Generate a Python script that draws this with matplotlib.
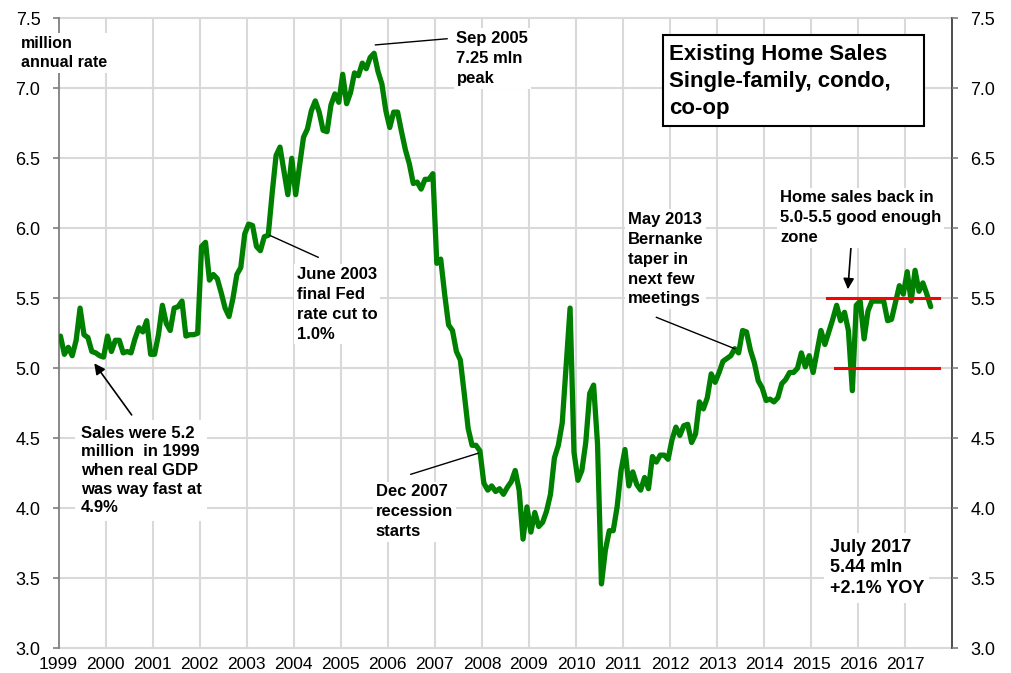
import numpy as np
import matplotlib
matplotlib.use('Agg')
import matplotlib.pyplot as plt
from matplotlib.patches import Rectangle

plt.rcParams['font.family'] = ['Liberation Sans', 'DejaVu Sans']

# ---- data: existing home sales, million SAAR, monthly ----
sales_1999 = [5.23, 5.10, 5.15, 5.09, 5.20, 5.43, 5.24, 5.22, 5.12, 5.11, 5.09, 5.08]
sales_2000 = [5.23, 5.12, 5.20, 5.20, 5.11, 5.12, 5.11, 5.21, 5.29, 5.26, 5.34, 5.10]
sales_2001 = [5.10, 5.24, 5.45, 5.32, 5.27, 5.43, 5.44, 5.48, 5.23, 5.24, 5.24, 5.25]
sales_2002 = [5.87, 5.90, 5.63, 5.67, 5.64, 5.54, 5.43, 5.37, 5.50, 5.67, 5.72, 5.96]
sales_2003 = [6.03, 6.02, 5.87, 5.84, 5.94, 5.95, 6.25, 6.52, 6.58, 6.41, 6.24, 6.50]
sales_2004 = [6.24, 6.45, 6.65, 6.71, 6.84, 6.91, 6.83, 6.70, 6.69, 6.88, 6.96, 6.90]
sales_2005 = [7.10, 6.89, 6.97, 7.11, 7.09, 7.18, 7.14, 7.22, 7.25, 7.12, 7.03, 6.84]
sales_2006 = [6.72, 6.83, 6.83, 6.69, 6.56, 6.46, 6.32, 6.33, 6.28, 6.35, 6.35, 6.39]
sales_2007 = [5.75, 5.78, 5.53, 5.31, 5.27, 5.12, 5.06, 4.82, 4.57, 4.45, 4.45, 4.41]
sales_2008 = [4.18, 4.13, 4.16, 4.12, 4.14, 4.10, 4.15, 4.19, 4.27, 4.13, 3.78, 4.01]
sales_2009 = [3.83, 3.97, 3.87, 3.90, 3.98, 4.10, 4.36, 4.45, 4.61, 5.02, 5.43, 4.40]
sales_2010 = [4.20, 4.27, 4.47, 4.82, 4.88, 4.46, 3.46, 3.70, 3.84, 3.84, 4.01, 4.27]
sales_2011 = [4.42, 4.16, 4.26, 4.17, 4.13, 4.22, 4.14, 4.37, 4.33, 4.38, 4.38, 4.35]
sales_2012 = [4.49, 4.58, 4.52, 4.59, 4.60, 4.47, 4.53, 4.76, 4.71, 4.79, 4.96, 4.90]
sales_2013 = [4.97, 5.05, 5.07, 5.09, 5.14, 5.11, 5.27, 5.26, 5.13, 5.04, 4.91, 4.86]
sales_2014 = [4.77, 4.78, 4.76, 4.79, 4.89, 4.92, 4.97, 4.97, 5.00, 5.11, 5.01, 5.09]
sales_2015 = [4.97, 5.12, 5.27, 5.17, 5.26, 5.35, 5.45, 5.34, 5.40, 5.27, 4.84, 5.45]
sales_2016 = [5.48, 5.21, 5.41, 5.48, 5.48, 5.48, 5.48, 5.34, 5.35, 5.47, 5.59, 5.53]
sales_2017 = [5.69, 5.48, 5.70, 5.55, 5.61, 5.53, 5.44]

start_year = 1999
year_labels = [str(y) for y in range(1999, 2018)]
y_ticks = [3.0, 3.5, 4.0, 4.5, 5.0, 5.5, 6.0, 6.5, 7.0, 7.5]
zone_levels = [5.0, 5.5]

sales = np.concatenate([sales_1999, sales_2000, sales_2001, sales_2002, sales_2003,
                        sales_2004, sales_2005, sales_2006, sales_2007, sales_2008,
                        sales_2009, sales_2010, sales_2011, sales_2012, sales_2013,
                        sales_2014, sales_2015, sales_2016, sales_2017])
t = start_year + (np.arange(len(sales)) + 0.5) / 12.0

def month_x(year, month):
    return year + (month - 0.5) / 12.0

def val_at(year, month):
    return sales[(year - start_year) * 12 + month - 1]

# ---- figure ----
W, H = 1011, 673
fig = plt.figure(figsize=(W / 100, H / 100), dpi=100)
x0, x1, ytop, ybot = 58.5, 952.3, 18.3, 648.3
ax = fig.add_axes([x0 / W, (H - ybot) / H, (x1 - x0) / W, (ybot - ytop) / H])
ax.set_xlim(1999, 2018)
ax.set_ylim(3.0, 7.5)

grid_c = '#d9d9d9'
for yv in y_ticks:
    ax.axhline(yv, color=grid_c, lw=1.5, zorder=0.5, clip_on=False)
for i in range(1, len(year_labels)):
    ax.axvline(1999 + i, color=grid_c, lw=1.5, zorder=0.5)

for s in ['top', 'bottom']:
    ax.spines[s].set_visible(False)
ax.spines['left'].set_color('#7f7f7f')
ax.spines['left'].set_linewidth(1.3)
ax.spines['right'].set_color('#404040')
ax.spines['right'].set_linewidth(1.3)
ax.spines['left'].set_zorder(1)
ax.spines['right'].set_zorder(1)

ax.set_yticks(y_ticks)
ax.set_yticklabels([f'{v:.1f}' for v in y_ticks])
ax.tick_params(axis='y', which='both', left=True, right=True, labelleft=True,
               labelright=True, direction='out', length=4, width=1.2,
               pad=9, labelsize=13, colors='#7f7f7f', labelcolor='black')
ax.set_xticks(list(range(1999, 2018)))
ax.set_xticklabels(year_labels)
ax.tick_params(axis='x', length=0, pad=6, labelsize=12.5)

# ---- main line ----
ax.plot(t, sales, color='#008000', lw=3.8, solid_joinstyle='round',
        solid_capstyle='round', zorder=2)

# ---- zone lines ----
ax.plot([2015.34, 2017.71], [zone_levels[1], zone_levels[1]], color='#ff0000', lw=2.2, zorder=3)
ax.plot([2015.50, 2017.71], [zone_levels[0], zone_levels[0]], color='#ff0000', lw=2.2, zorder=3)

wb = dict(facecolor='white', edgecolor='none', pad=2)
fs = 12
ls = 1.4
dy = -0.025  # small downward shift of text blocks

ax.text(1998.197, 7.402 + dy, 'million\nannual rate', fontsize=11.5, fontweight='bold',
        ha='left', va='top', bbox=wb, zorder=5, clip_on=False, linespacing=1.39)

# Sep 2005 peak
ax.text(2007.46, 7.433 + dy, 'Sep 2005\n7.25 mln\npeak', fontsize=fs, fontweight='bold',
        ha='left', va='top', bbox=wb, zorder=5, linespacing=ls)
ax.plot([month_x(2005, 9) + 0.03, 2007.26], [val_at(2005, 9) + 0.06, 7.354],
        color='black', lw=1, zorder=4)

# June 2003
ax.text(2004.06, 5.747 + dy, 'June 2003\nfinal Fed\nrate cut to\n1.0%', fontsize=fs,
        fontweight='bold', ha='left', va='top', bbox=wb, zorder=5, linespacing=ls)
ax.plot([month_x(2003, 6) + 0.03, 2004.52], [val_at(2003, 6), 5.793],
        color='black', lw=1, zorder=4)

# 1999 note
ax.text(1999.47, 4.616 + dy, 'Sales were 5.2\nmillion  in 1999\nwhen real GDP\nwas way fast at\n4.9%',
        fontsize=fs, fontweight='bold', ha='left', va='top',
        bbox=dict(facecolor='white', edgecolor='none', pad=4), zorder=5, linespacing=1.31)
ax.annotate('', xy=(1999.76, 5.036), xytext=(2000.555, 4.667),
            arrowprops=dict(arrowstyle='-|>', color='black', lw=1.2, mutation_scale=16,
                            shrinkA=0, shrinkB=0), zorder=4)

# Dec 2007
ax.text(2005.74, 4.195 + dy, 'Dec 2007\nrecession\nstarts', fontsize=fs, fontweight='bold',
        ha='left', va='top', bbox=wb, zorder=5, linespacing=ls)
ax.plot([2006.49, month_x(2007, 12) - 0.04], [4.243, 4.393], color='black', lw=1, zorder=4)

# May 2013
ax.text(2011.105, 6.14 + dy, 'May 2013\nBernanke\ntaper in\nnext few\nmeetings', fontsize=fs,
        fontweight='bold', ha='left', va='top', bbox=wb, zorder=5, linespacing=ls)
ax.plot([2011.71, month_x(2013, 5)], [5.364, val_at(2013, 5)], color='black', lw=1, zorder=4)

# zone note
ax.text(2014.343, 6.295 + dy, 'Home sales back in\n5.0-5.5 good enough\nzone', fontsize=fs,
        fontweight='bold', ha='left', va='top', bbox=wb, zorder=5, linespacing=ls)
ax.annotate('', xy=(2015.78, 5.564), xytext=(2015.873, 5.988),
            arrowprops=dict(arrowstyle='-|>', color='black', lw=1.2, mutation_scale=16,
                            shrinkA=0, shrinkB=0), zorder=4)

# latest
ax.text(2015.39, 3.809 + dy, 'July 2017\n5.44 mln\n+2.1% YOY', fontsize=13, fontweight='bold',
        ha='left', va='top', bbox=dict(facecolor='white', edgecolor='none', pad=4),
        zorder=5, linespacing=1.3)

# title box
ax.add_patch(Rectangle((2011.85, 6.73), 5.55, 0.65, facecolor='white', edgecolor='black',
                       lw=1.5, zorder=5))
ax.text(2011.98, 7.338 + dy, 'Existing Home Sales\nSingle-family, condo,\nco-op', fontsize=16,
        fontweight='bold', ha='left', va='top', zorder=6, linespacing=1.35)

fig.savefig('out.png', dpi=100, facecolor='white')
